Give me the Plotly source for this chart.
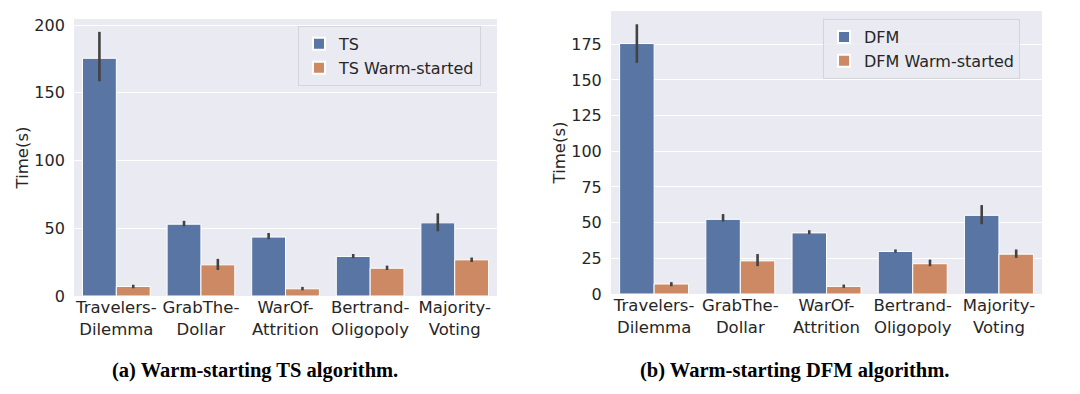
import plotly.graph_objects as go

categories = ["Travelers-<br>Dilemma", "GrabThe-<br>Dollar", "WarOf-<br>Attrition", "Bertrand-<br>Oligopoly", "Majority-<br>Voting"]

ts_mean = [175.5, 53.0, 43.5, 29.2, 54.0]
ts_low = [158.5, 51.5, 42.0, 27.9, 47.8]
ts_high = [195.0, 55.5, 46.5, 31.0, 61.0]

ts_warm_mean = [7.0, 23.0, 5.3, 20.5, 26.7]
ts_warm_low = [5.7, 19.2, 4.2, 19.2, 25.1]
ts_warm_high = [8.3, 27.4, 6.7, 22.4, 28.4]

dfm_mean = [175.5, 52.3, 42.8, 29.8, 55.1]
dfm_low = [162.0, 50.8, 41.9, 28.9, 48.9]
dfm_high = [189.0, 56.0, 44.7, 31.2, 62.3]

dfm_warm_mean = [7.0, 23.2, 5.3, 21.2, 27.9]
dfm_warm_low = [5.4, 19.5, 4.3, 19.5, 25.3]
dfm_warm_high = [8.3, 28.0, 6.6, 24.1, 31.2]

left_ticks = [0, 50, 100, 150, 200]
right_ticks = [0, 25, 50, 75, 100, 125, 150, 175]

BLUE = "#5975a4"
ORANGE = "#cc8963"
ERR = "#424242"
BG = "#eaeaf2"
TXT = "#262626"
FONT = "DejaVu Sans"


def bar(name, means, lows, highs, color, xa, ya, legend):
    return go.Bar(
        x=categories, y=means, name=name, xaxis=xa, yaxis=ya, legend=legend,
        marker=dict(color=color, line=dict(color="white", width=1)),
        error_y=dict(type="data", symmetric=False,
                     array=[h - m for h, m in zip(highs, means)],
                     arrayminus=[m - l for m, l in zip(means, lows)],
                     color=ERR, thickness=2.6, width=0),
    )


fig = go.Figure()
fig.add_trace(bar("TS", ts_mean, ts_low, ts_high, BLUE, "x", "y", "legend"))
fig.add_trace(bar("TS Warm-started", ts_warm_mean, ts_warm_low, ts_warm_high, ORANGE, "x", "y", "legend"))
fig.add_trace(bar("DFM", dfm_mean, dfm_low, dfm_high, BLUE, "x2", "y2", "legend2"))
fig.add_trace(bar("DFM Warm-started", dfm_warm_mean, dfm_warm_low, dfm_warm_high, ORANGE, "x2", "y2", "legend2"))

axis_common = dict(showline=False, zeroline=False, automargin=False,
                   tickfont=dict(family=FONT, size=16, color=TXT))
xax = dict(axis_common, showgrid=False, ticks="", range=[-0.5, 4.5],
           tickfont=dict(family=FONT, size=16.5, color=TXT))
yax_common = dict(axis_common, showgrid=True, gridcolor="white", gridwidth=1.2,
                  ticks="outside", ticklen=5, tickcolor="rgba(0,0,0,0)",
                  title=dict(text="Time(s)", font=dict(family=FONT, size=16.5, color=TXT), standoff=1))

legend_common = dict(bgcolor="rgba(234,234,242,0.85)", bordercolor="#d4d4dc", borderwidth=1,
                     font=dict(family=FONT, size=16, color=TXT), xanchor="left", yanchor="top",
                     tracegroupgap=0, itemsizing="constant")

# page body has an 8px margin, so the figure is sized and placed to compensate
fig.update_layout(
    width=1072, height=386,
    margin=dict(l=0, r=0, t=0, b=0),
    paper_bgcolor="white", plot_bgcolor=BG,
    barmode="group", bargap=0.2, bargroupgap=0,
    showlegend=True,
    xaxis=dict(xax, domain=[0.0616, 0.4562], anchor="y"),
    yaxis=dict(yax_common, domain=[0.2539, 0.9715], range=[0, 204.5], tickvals=left_ticks, anchor="x"),
    xaxis2=dict(xax, domain=[0.5625, 0.9646], anchor="y2"),
    yaxis2=dict(yax_common, domain=[0.2591, 0.9922], range=[0, 198.3], tickvals=right_ticks, anchor="x2"),
    legend=dict(legend_common, x=0.2705, y=0.9535),
    legend2=dict(legend_common, x=0.7603, y=0.9715),
    annotations=[
        dict(text="<b>(a) Warm-starting TS algorithm.</b>", x=0.2304, y=0.0596, xref="paper", yref="paper",
             xanchor="center", yanchor="middle",
             showarrow=False, font=dict(family="Liberation Serif", size=20.5, color="black")),
        dict(text="<b>(b) Warm-starting DFM algorithm.</b>", x=0.7341, y=0.0596, xref="paper", yref="paper",
             xanchor="center", yanchor="middle",
             showarrow=False, font=dict(family="Liberation Serif", size=20.5, color="black")),
    ],
)

fig.write_html("out.html")
